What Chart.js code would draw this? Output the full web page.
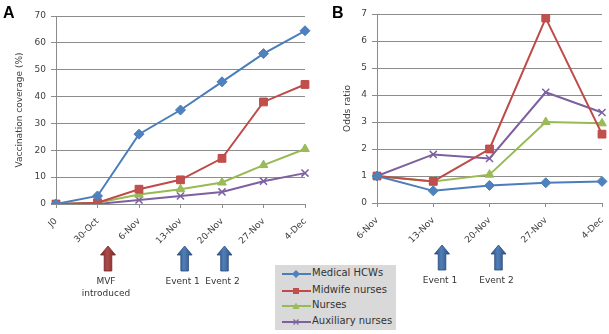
<!DOCTYPE html>
<html>
<head>
<meta charset="utf-8">
<script src="https://cdn.jsdelivr.net/npm/chart.js@4.4.1/dist/chart.umd.min.js"></script>
<style>
  html, body { margin: 0; padding: 0; background: #ffffff; }
  #wrap { position: relative; width: 609px; height: 334px; overflow: hidden; font-family: "DejaVu Sans", sans-serif; }
  canvas { position: absolute; left: 0; top: 0; }
  .panel { position: absolute; font-family: "Liberation Sans", Arial, sans-serif; font-weight: bold; font-size: 16px; color: #000; }
  #legend { position: absolute; left: 275px; top: 265px; width: 121px; height: 65px; background: #d9d9d9; }
  .lrow { position: absolute; left: 0; height: 16px; width: 121px; }
  .lrow svg { position: absolute; left: 7px; top: 0; }
  .lrow span { position: absolute; left: 37px; top: 1px; font-size: 10px; color: #333; white-space: nowrap; font-family: "DejaVu Sans", sans-serif; }
</style>
</head>
<body>
<div id="wrap">
  <canvas id="chartA" width="609" height="334"></canvas>
  <canvas id="chartB" width="609" height="334"></canvas>
  <div class="panel" style="left:3px; top:4px;">A</div>
  <div class="panel" style="left:332px; top:4px;">B</div>
  <div id="legend"></div>
</div>
<script>
// ---------- DATA ----------
const categoriesA = ['J0', '30-Oct', '6-Nov', '13-Nov', '20-Nov', '27-Nov', '4-Dec'];
const categoriesB = ['6-Nov', '13-Nov', '20-Nov', '27-Nov', '4-Dec'];
const seriesNames = ['Medical HCWs', 'Midwife nurses', 'Nurses', 'Auxiliary nurses'];

const coverageMedical   = [0, 3, 26, 35, 45.5, 56, 64.5];
const coverageMidwife   = [0, 0.5, 5.5, 9, 17, 38, 44.5];
const coverageNurses    = [0, 0.5, 3.5, 5.5, 8, 14.5, 20.5];
const coverageAuxiliary = [0, 0, 1.5, 3, 4.5, 8.5, 11.5];

const oddsMedical   = [1, 0.45, 0.65, 0.75, 0.8];
const oddsMidwife   = [1, 0.8, 2, 6.85, 2.55];
const oddsNurses    = [1, 0.8, 1.05, 3, 2.95];
const oddsAuxiliary = [1, 1.8, 1.65, 4.1, 3.35];

const yTicksA = [0, 10, 20, 30, 40, 50, 60, 70];
const yTicksB = [0, 1, 2, 3, 4, 5, 6, 7];

// ---------- STYLES ----------
const lineColors  = ['#4a7ebb', '#be4b48', '#98b954', '#7d60a0'];
const fillColors  = ['#4f81bd', '#c0504d', '#9bbb59', '#8064a2'];
const pointStyles = ['rectRot', 'rect', 'triangle', 'crossRot'];
const pointRadii  = [5, 5.5, 5, 5];

const tickFont  = { family: 'DejaVu Sans', size: 9 };
const tickColor = '#404040';
const gridColor = '#8c8c8c';

function makeDatasets(seriesList) {
  return seriesList.map((vals, i) => ({
    label: seriesNames[i],
    data: vals,
    borderColor: lineColors[i],
    backgroundColor: fillColors[i],
    pointBackgroundColor: fillColors[i],
    pointBorderColor: lineColors[i],
    pointStyle: pointStyles[i],
    pointRadius: pointRadii[i],
    pointBorderWidth: pointStyles[i] === 'crossRot' ? 1.5 : 1,
    borderWidth: 2,
    tension: 0,
    fill: false
  }));
}

// Annotation arrows (x given as category index position)
const annotationsA = [
  { idx: 1.253, color: 'red',  lines: ['MVF', 'introduced'] },
  { idx: 3.1,   color: 'blue', lines: ['Event 1'] },
  { idx: 4.06,  color: 'blue', lines: ['Event 2'] }
];
const annotationsB = [
  { idx: 1.156, color: 'blue', lines: ['Event 1'] },
  { idx: 2.16,  color: 'blue', lines: ['Event 2'] }
];

const arrowPlugin = {
  id: 'arrows',
  afterDraw(chart, args, opts) {
    const ctx = chart.ctx;
    const xs = chart.scales.x;
    const base = chart.chartArea.bottom;
    (opts.items || []).forEach(a => {
      const x = xs.getPixelForValue(a.idx);
      const top = base + 42, bot = base + 67;
      const headH = 9, headW = 7.5, shaftW = 3.8;
      const g = ctx.createLinearGradient(x - headW, 0, x + headW, 0);
      if (a.color === 'red') {
        g.addColorStop(0, '#7a2a28'); g.addColorStop(0.45, '#b0494a'); g.addColorStop(1, '#7a2a28');
      } else {
        g.addColorStop(0, '#2c5081'); g.addColorStop(0.45, '#4f7fb8'); g.addColorStop(1, '#2c5081');
      }
      ctx.save();
      ctx.beginPath();
      ctx.moveTo(x, top);
      ctx.lineTo(x + headW, top + headH);
      ctx.lineTo(x + shaftW, top + headH);
      ctx.lineTo(x + shaftW, bot);
      ctx.lineTo(x - shaftW, bot);
      ctx.lineTo(x - shaftW, top + headH);
      ctx.lineTo(x - headW, top + headH);
      ctx.closePath();
      ctx.fillStyle = g;
      ctx.fill();
      ctx.strokeStyle = a.color === 'red' ? '#6e2624' : '#284a78';
      ctx.lineWidth = 0.8;
      ctx.stroke();
      ctx.fillStyle = '#333';
      ctx.font = '9px "DejaVu Sans"';
      ctx.textAlign = 'center';
      ctx.textBaseline = 'middle';
      a.lines.forEach((t, k) => ctx.fillText(t, x - 2, base + 78 + k * 12));
      ctx.restore();
    });
  }
};

function makeOptions(cfg) {
  return {
    responsive: false,
    animation: false,
    devicePixelRatio: 1,
    layout: { padding: cfg.padding, autoPadding: false },
    plugins: {
      legend: { display: false },
      tooltip: { enabled: false },
      arrows: { items: cfg.annotations }
    },
    scales: {
      x: {
        type: 'category',
        offset: false,
        grid: { display: true, drawOnChartArea: false, drawTicks: true, tickLength: 4, color: gridColor },
        border: { display: true, color: gridColor },
        ticks: { autoSkip: false, maxRotation: 45, minRotation: 45, font: tickFont, color: tickColor, padding: 8 },
        afterFit: s => { s.height = cfg.xHeight; s.paddingLeft = 0; s.paddingRight = 0; }
      },
      y: {
        min: cfg.yTicks[0],
        max: cfg.yTicks[cfg.yTicks.length - 1],
        afterBuildTicks: s => { s.ticks = cfg.yTicks.map(v => ({ value: v })); },
        grid: { color: gridColor, tickLength: 5 },
        border: { display: true, color: gridColor },
        ticks: { font: tickFont, color: tickColor, padding: 5 },
        title: { display: true, text: cfg.yTitle, font: { family: 'DejaVu Sans', size: 9 }, color: tickColor, padding: { top: 0, bottom: 0 } },
        afterFit: s => { s.width = cfg.yWidth; s.paddingTop = 0; s.paddingBottom = 0; }
      }
    }
  };
}

new Chart(document.getElementById('chartA'), {
  type: 'line',
  data: {
    labels: categoriesA,
    datasets: makeDatasets([coverageMedical, coverageMidwife, coverageNurses, coverageAuxiliary])
  },
  options: makeOptions({
    padding: { left: 14, right: 304, top: 16, bottom: 0 },
    xHeight: 130, yWidth: 42, yTicks: yTicksA,
    yTitle: 'Vaccination coverage (%)', annotations: annotationsA
  }),
  plugins: [arrowPlugin]
});

new Chart(document.getElementById('chartB'), {
  type: 'line',
  data: {
    labels: categoriesB,
    datasets: makeDatasets([oddsMedical, oddsMidwife, oddsNurses, oddsAuxiliary])
  },
  options: makeOptions({
    padding: { left: 342, right: 7, top: 14, bottom: 0 },
    xHeight: 131, yWidth: 35, yTicks: yTicksB,
    yTitle: 'Odds ratio', annotations: annotationsB
  }),
  plugins: [arrowPlugin]
});

// ---------- LEGEND (HTML, built from series names/styles) ----------
function markerSvg(i) {
  const c = fillColors[i], l = lineColors[i];
  let m = '';
  if (pointStyles[i] === 'rectRot') m = `<polygon points="14,4 18,8 14,12 10,8" fill="${c}"/>`;
  else if (pointStyles[i] === 'rect') m = `<rect x="11" y="5" width="6" height="6" fill="${c}"/>`;
  else if (pointStyles[i] === 'triangle') m = `<polygon points="14,4.5 17.5,11 10.5,11" fill="${c}"/>`;
  else m = `<path d="M11.5 5.5 L16.5 10.5 M16.5 5.5 L11.5 10.5" stroke="${c}" stroke-width="1.3"/>`;
  return `<svg width="30" height="16"><line x1="0" y1="8" x2="29" y2="8" stroke="${l}" stroke-width="2"/>${m}</svg>`;
}
const legend = document.getElementById('legend');
const rowTops = [1, 18, 33, 49];
seriesNames.forEach((n, i) => {
  const r = document.createElement('div');
  r.className = 'lrow';
  r.style.top = rowTops[i] + 'px';
  r.innerHTML = markerSvg(i) + `<span>${n}</span>`;
  legend.appendChild(r);
});
</script>
</body>
</html>
